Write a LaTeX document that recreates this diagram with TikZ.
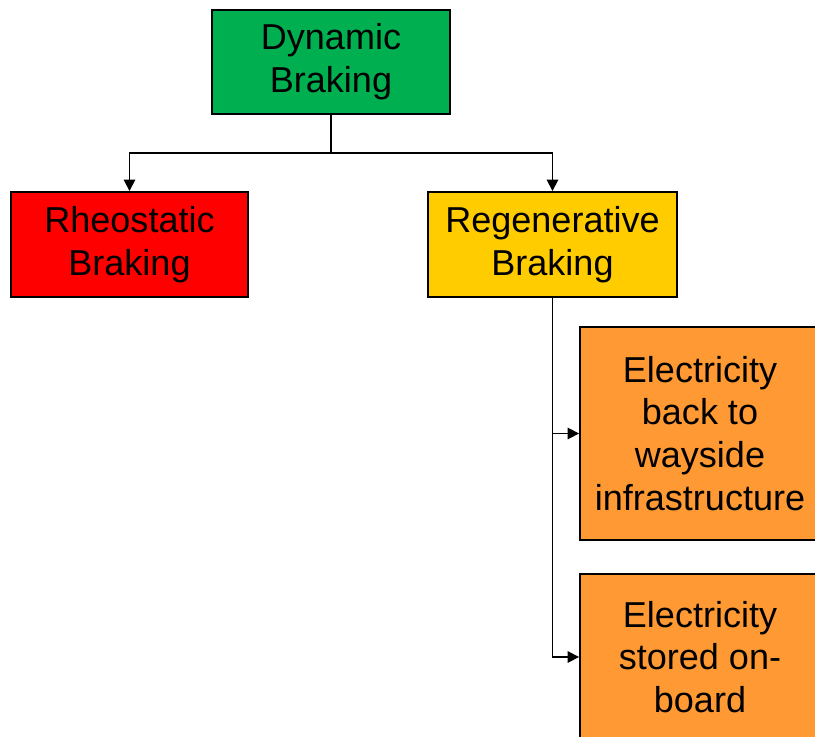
\documentclass[tikz,border=0pt]{standalone}
\usepackage{fontspec}
\setmainfont{Liberation Sans}
\usetikzlibrary{arrows.meta}
\definecolor{dbgreen}{HTML}{00B050}
\definecolor{dbred}{HTML}{FF0000}
\definecolor{dbyellow}{HTML}{FFCC00}
\definecolor{dborange}{HTML}{FF9933}
\tikzset{
  brakebox/.style={draw=black, line width=1.1pt, align=center, inner sep=0pt,
    font=\fontsize{20.5}{24.4}\selectfont, execute at begin node={\vspace*{0.12cm}}},
}
\begin{document}
\begin{tikzpicture}[x=0.02cm, y=-0.02cm, >={Triangle[length=6.5pt,width=6.5pt]}, line width=1pt]
       \useasboundingbox (0,0) rectangle (815,737);
       \clip (0,0) rectangle (815,737);
       % boxes
       \node[brakebox, fill=dbgreen, minimum width=4.76cm, minimum height=2.08cm] (dyn) at (331,62) {Dynamic\\Braking};
       \node[brakebox, fill=dbred, minimum width=4.74cm, minimum height=2.1cm] (rheo) at (129.5,244.5) {Rheostatic\\Braking};
       \node[brakebox, fill=dbyellow, minimum width=4.98cm, minimum height=2.1cm] (regen) at (552.5,244.5) {Regenerative\\Braking};
       \node[brakebox, fill=dborange, minimum width=4.8cm, minimum height=4.26cm] (back) at (700,433.5) {Electricity\\back to\\wayside\\infrastructure};
       \node[brakebox, fill=dborange, minimum width=4.8cm, minimum height=3.32cm] (stored) at (700,657) {Electricity\\stored on-\\board};
       % connectors
       \coordinate (fork) at (331,153);
       \draw (dyn.south) -- (fork);
       \draw [->] (fork) -| (rheo.north);
       \draw [->] (fork) -| (regen.north);
       \draw [->] (regen.south) |- (back.west);
       \draw [->] (regen.south) |- (stored.west);
\end{tikzpicture}
\end{document}
